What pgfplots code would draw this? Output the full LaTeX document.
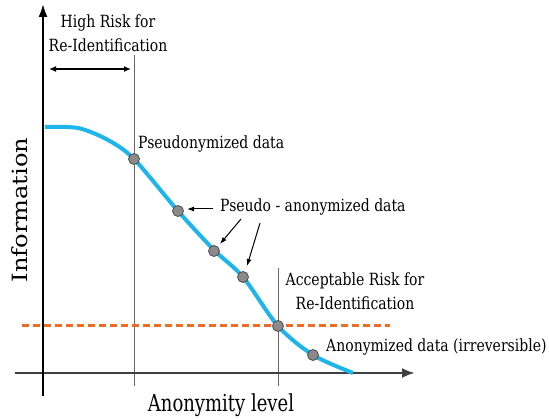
\documentclass[border=0pt]{standalone}
\usepackage{pgfplots}
\pgfplotsset{compat=1.18}
\usepackage{fontspec}
\setmainfont{DejaVu Serif}
\usetikzlibrary{arrows.meta}
\definecolor{curvecyan}{HTML}{1EB4EC}
\definecolor{dashorange}{HTML}{F26A21}
\definecolor{ptgray}{HTML}{8A8A8A}
\newcommand{\tx}[3][1.2]{\scalebox{1}[#1]{\fontsize{#2}{#2}\selectfont #3}}
\begin{document}
\begin{tikzpicture}
\useasboundingbox (0,0) rectangle (549pt,419pt);
\begin{axis}[scale only axis, width=549pt, height=419pt,
  xmin=0, xmax=549, ymin=0, ymax=419, y dir=reverse,
  axis lines=none, clip=false]
% guide lines
\addplot[gray!80!black, line width=1pt] coordinates {(134,55) (134,386)};
\addplot[gray!80!black, line width=1pt] coordinates {(278,268) (278,386)};
% axes
\addplot[black!75, line width=2.5pt, -{Latex[length=13pt,width=10pt]}] coordinates {(15,373) (415,373)};
\addplot[black, line width=2pt, -{Latex[length=13pt,width=9pt]}] coordinates {(43,396) (43,4)};
% dashed threshold
\addplot[dashorange, line width=3pt, dash pattern=on 7pt off 4pt] coordinates {(22,326) (390,326)};
% curve
\addplot[curvecyan, line width=4pt, smooth, tension=0.5] coordinates {
 (45,127) (78,128) (108,140) (134,159) (178,211) (214,250)
 (243,277) (278,326) (313,355) (353,373)};
% points
\addplot[only marks, mark=*, mark size=5.5pt, mark options={fill=ptgray, draw=gray!60!black, line width=0.8pt}] coordinates {
 (134,159) (178,211) (214,251) (243,277) (278,326) (313,355)};
% arrows
\addplot[black, line width=1.3pt, {Latex[length=7pt,width=6pt]}-{Latex[length=7pt,width=6pt]}] coordinates {(49,69) (131,69)};
\addplot[black, line width=1pt, -{Latex[length=7pt,width=5pt]}] coordinates {(213,209) (187,209)};
\addplot[black, line width=1pt, -{Latex[length=7pt,width=5pt]}] coordinates {(241,219) (220,244)};
\addplot[black, line width=1pt, -{Latex[length=7pt,width=5pt]}] coordinates {(260,223) (247,266)};
% texts
\node[anchor=base, inner sep=0pt] at (axis cs:108,28) {\tx{14}{High Risk for}};
\node[anchor=base, inner sep=0pt] at (axis cs:108,52) {\tx{14}{Re-Identification}};
\node[anchor=base west, inner sep=0pt] at (axis cs:138,149) {\tx{14}{Pseudonymized data}};
\node[anchor=base west, inner sep=0pt] at (axis cs:220,212) {\tx{14}{Pseudo - anonymized data}};
\node[anchor=base, inner sep=0pt] at (axis cs:355,286) {\tx{14}{Acceptable Risk for}};
\node[anchor=base, inner sep=0pt] at (axis cs:355,310) {\tx{14}{Re-Identification}};
\node[anchor=base west, inner sep=0pt] at (axis cs:326,352) {\tx{14}{Anonymized data (irreversible)}};
\node[anchor=base, inner sep=0pt] at (axis cs:221,412) {\tx[1.3]{18}{Anonymity level}};
\node[rotate=90, anchor=base, inner sep=0pt] at (axis cs:27,210) {\scalebox{1.15}[1]{\fontsize{21}{21}\selectfont Information}};
\end{axis}
\end{tikzpicture}
\end{document}
